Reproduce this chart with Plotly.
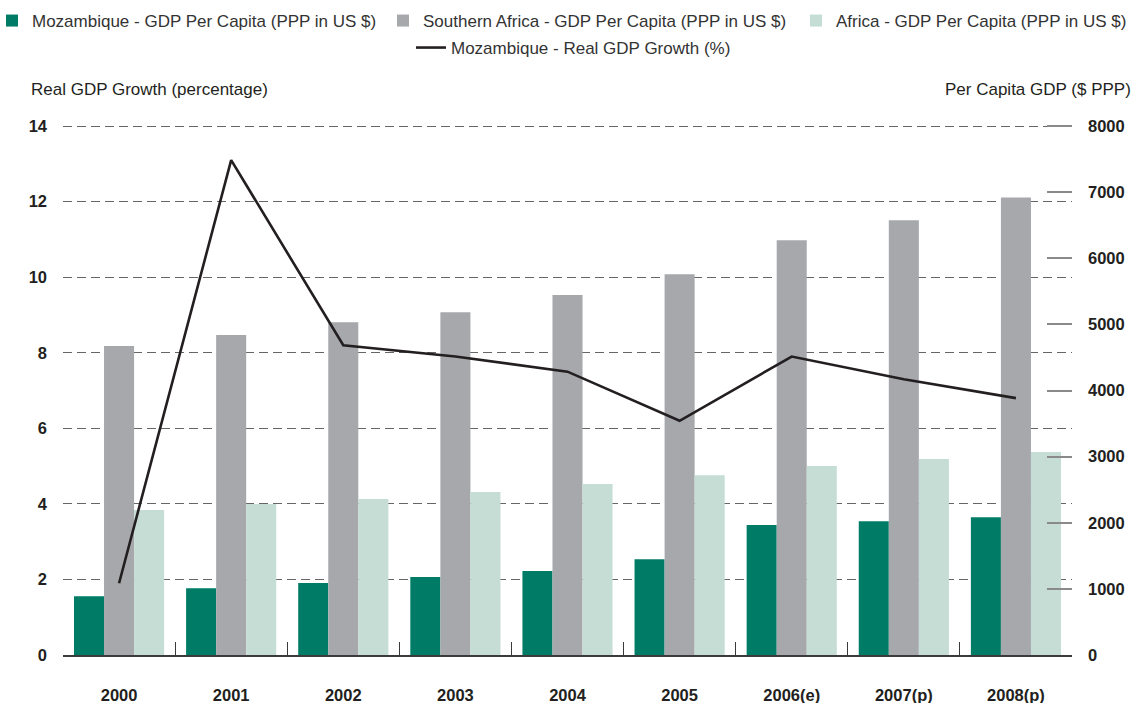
import plotly.graph_objects as go

years = ["2000", "2001", "2002", "2003", "2004", "2005", "2006(e)", "2007(p)", "2008(p)"]
moz_gdp_pc = [890, 1010, 1090, 1180, 1270, 1450, 1965, 2025, 2085]
sadc_gdp_pc = [4675, 4840, 5035, 5185, 5445, 5760, 6275, 6575, 6920]
africa_gdp_pc = [2195, 2285, 2360, 2465, 2585, 2720, 2860, 2965, 3070]
moz_growth = [1.9, 13.1, 8.2, 7.9, 7.5, 6.2, 7.9, 7.3, 6.8]

left_ticks = [0, 2, 4, 6, 8, 10, 12, 14]
right_ticks = [0, 1000, 2000, 3000, 4000, 5000, 6000, 7000, 8000]

FONT = "Liberation Sans, Arial, Helvetica, sans-serif"
TXT = "#231f20"
EXT = 14.03 / 14.0

# plot-area geometry (pixels) used to place legends / titles in paper coords
PL, PW, PB, PH = 63, 1009, 655, 530


def px_x(px):
    return (px - PL) / PW


def px_y(py):
    return (PB - py) / PH


fig = go.Figure()
fig.add_bar(x=years, y=moz_gdp_pc, name="Mozambique - GDP Per Capita (PPP in US $)",
            marker=dict(color="#007c66", line=dict(width=0)), yaxis="y", legend="legend",
            showlegend=True)
fig.add_bar(x=years, y=sadc_gdp_pc, name="Southern Africa - GDP Per Capita (PPP in US $)",
            marker=dict(color="#a7a8ac", line=dict(width=0)), yaxis="y", legend="legend2",
            showlegend=True)
fig.add_bar(x=years, y=africa_gdp_pc, name="Africa - GDP Per Capita (PPP in US $)",
            marker=dict(color="#c5ddd5", line=dict(width=0)), yaxis="y", legend="legend3",
            showlegend=True)
fig.add_scatter(x=years, y=moz_growth, name="Mozambique - Real GDP Growth (%)",
                mode="lines", line=dict(color=TXT, width=2.6), yaxis="y2", legend="legend4",
                showlegend=True)

tickfont = dict(family=FONT, size=16.5, color=TXT, weight="bold")


def leg(x_px, y_px):
    return dict(
        orientation="h", x=px_x(x_px), xanchor="left", y=px_y(y_px), yanchor="middle",
        font=dict(family=FONT, size=17, color="#333333"), bgcolor="rgba(0,0,0,0)",
        itemwidth=30, visible=True,
    )


fig.update_layout(
    width=1135, height=703,
    showlegend=True,
    margin=dict(l=63, r=63, t=125, b=48, autoexpand=False),
    paper_bgcolor="white", plot_bgcolor="white",
    font=dict(family=FONT, color=TXT, size=17),
    barmode="group", bargap=0.196, bargroupgap=0,
    xaxis=dict(
        type="category", showline=True, linecolor="#3a3a3a", linewidth=1.5,
        ticks="inside", tickson="boundaries", ticklen=13, tickcolor="#3a3a3a", tickwidth=1,
        tickfont=tickfont, ticklabelstandoff=24, showgrid=False, zeroline=False,
    ),
    yaxis=dict(
        side="right", range=[0, 8000 * EXT], tickvals=right_ticks,
        ticks="inside", ticklen=25, tickcolor="#8a8a8a", tickwidth=1.6,
        tickfont=tickfont, ticklabelstandoff=15, showgrid=False, zeroline=False, showline=False,
    ),
    yaxis2=dict(
        overlaying="y", side="left", range=[0, 14 * EXT], tickvals=left_ticks,
        ticks="", showgrid=True, gridcolor="#666666", gridwidth=1.4, griddash="9px,5px",
        tickfont=tickfont, ticklabelstandoff=15, zeroline=False, showline=False,
    ),
    legend=leg(-8, 21),
    legend2=leg(383, 21),
    legend3=leg(796, 21),
    legend4=leg(411, 48),
    annotations=[
        dict(text="Real GDP Growth (percentage)", xref="paper", yref="paper",
             x=px_x(29), y=px_y(90), xanchor="left", yanchor="middle", showarrow=False,
             font=dict(family=FONT, size=17, color=TXT)),
        dict(text="Per Capita GDP ($ PPP)", xref="paper", yref="paper",
             x=px_x(1133), y=px_y(90), xanchor="right", yanchor="middle", showarrow=False,
             font=dict(family=FONT, size=17, color=TXT)),
    ],
)

fig.write_html("out.html", config={"displayModeBar": False},
               post_script="document.body.style.margin='0';")
